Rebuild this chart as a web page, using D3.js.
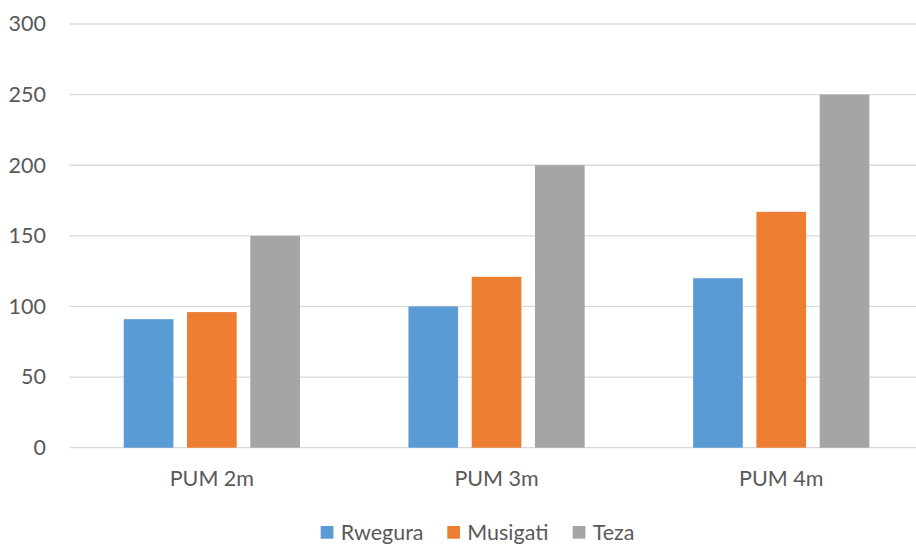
<!DOCTYPE html>
<html>
<head>
<meta charset="utf-8">
<script src="https://cdn.jsdelivr.net/npm/d3@7"></script>
<style>
  html, body { margin: 0; padding: 0; background: #fff; }
  svg { display: block; }
  text { font-family: Lato, "Open Sans", sans-serif; fill: #595959; }
</style>
</head>
<body>
<svg id="chart" width="916" height="544"></svg>
<script>
// Categories and series
const categories = ["PUM 2m", "PUM 3m", "PUM 4m"];
const seriesNames = ["Rwegura", "Musigati", "Teza"];
const rwegura = [91, 100, 120];
const musigati = [96, 121, 167];
const teza = [150, 200, 250];
const yTicks = [0, 50, 100, 150, 200, 250, 300];
const colors = ["#5b9bd5", "#ed7d31", "#a5a5a5"];

const seriesValues = [rwegura, musigati, teza];
const rows = categories.map((c, i) => ({
  category: c,
  values: seriesNames.map((s, j) => ({ series: s, value: seriesValues[j][i], color: colors[j] }))
}));

const svg = d3.select("#chart");
const plot = { left: 69.5, right: 923.6, top: 24, bottom: 447.7 };
const fontSize = "21.5px";

const x0 = d3.scaleBand().domain(categories).range([plot.left, plot.right]).paddingInner(0).paddingOuter(0);
const x1 = d3.scaleBand().domain(seriesNames).range([0, x0.bandwidth()]).paddingInner(0.215).paddingOuter(0.857);
const y = d3.scaleLinear().domain([0, 300]).range([plot.bottom, plot.top]);

// Horizontal gridlines
svg.append("g")
  .selectAll("line")
  .data(yTicks)
  .join("line")
  .attr("x1", plot.left)
  .attr("x2", 916)
  .attr("y1", d => y(d))
  .attr("y2", d => y(d))
  .attr("stroke", "#d9d9d9")
  .attr("stroke-width", 1.3);

// Y-axis labels
const yAxis = d3.axisLeft(y).tickValues(yTicks).tickSize(0).tickPadding(0);
const yg = svg.append("g").attr("transform", "translate(46,0)").call(yAxis);
yg.select(".domain").remove();
yg.selectAll("text")
  .attr("fill", "#595959")
  .style("font-size", fontSize)
  .style("font-family", "Lato, 'Open Sans', sans-serif");

// Bars
const groups = svg.append("g")
  .selectAll("g")
  .data(rows)
  .join("g")
  .attr("transform", d => `translate(${x0(d.category)},0)`);

groups.selectAll("rect")
  .data(d => d.values)
  .join("rect")
  .attr("x", d => x1(d.series))
  .attr("width", x1.bandwidth())
  .attr("y", d => y(d.value))
  .attr("height", d => y(0) - y(d.value))
  .attr("fill", d => d.color);

// Category labels
const xAxis = d3.axisBottom(x0).tickSize(0).tickPadding(0);
const xg = svg.append("g").attr("transform", `translate(0,${plot.bottom})`).call(xAxis);
xg.select(".domain").remove();
xg.selectAll("text")
  .attr("fill", "#595959")
  .attr("dy", null)
  .attr("y", 38.5)
  .style("font-size", fontSize)
  .style("font-family", "Lato, 'Open Sans', sans-serif");

// Legend
const legendX = [320.7, 447.3, 572.7];
const legend = svg.append("g")
  .selectAll("g")
  .data(seriesNames)
  .join("g")
  .attr("transform", (d, i) => `translate(${legendX[i]},526)`);
legend.append("rect")
  .attr("width", 12.7)
  .attr("height", 12.7)
  .attr("fill", (d, i) => colors[i]);
legend.append("text")
  .attr("x", 20)
  .attr("y", 13.5)
  .style("font-size", fontSize)
  .text(d => d);
</script>
</body>
</html>
